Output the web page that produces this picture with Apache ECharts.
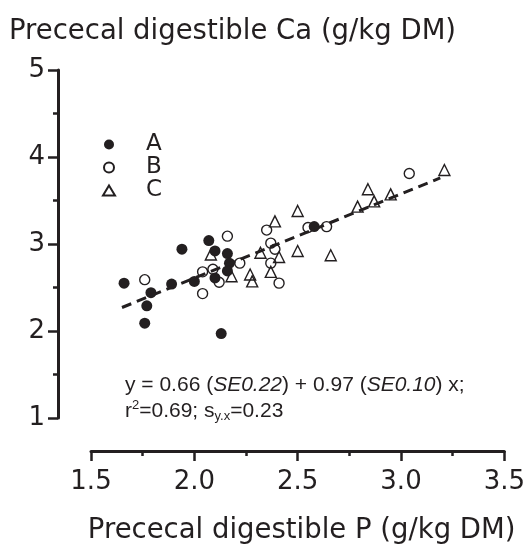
<!DOCTYPE html>
<html>
<head>
<meta charset="utf-8">
<script src="https://cdn.jsdelivr.net/npm/echarts@6/dist/echarts.min.js"></script>
<style>html,body{margin:0;padding:0;background:#fff}#c{width:528px;height:550px}</style>
</head>
<body>
<div id="c"></div>
<script>
// Group A (filled circles)
var xA = [1.66, 1.79, 1.77, 1.76, 1.89, 1.94, 2.00, 2.07, 2.10, 2.10, 2.13, 2.16, 2.17, 2.16, 2.58];
var yA = [2.55, 2.44, 2.29, 2.09, 2.54, 2.94, 2.57, 3.04, 2.92, 2.61, 1.97, 2.89, 2.78, 2.69, 3.20];
// Group B (open circles)
var xB = [1.76, 2.04, 2.09, 2.12, 2.04, 2.16, 2.22, 2.35, 2.37, 2.39, 2.37, 2.41, 2.55, 2.64, 3.04];
var yB = [2.59, 2.68, 2.71, 2.56, 2.43, 3.09, 2.78, 3.16, 3.01, 2.94, 2.78, 2.55, 3.19, 3.20, 3.81];
// Group C (open triangles)
var xC = [2.08, 2.18, 2.27, 2.28, 2.32, 2.37, 2.39, 2.41, 2.50, 2.50, 2.66, 2.79, 2.84, 2.87, 2.95, 3.21];
var yC = [2.88, 2.63, 2.65, 2.57, 2.90, 2.68, 3.26, 2.85, 2.92, 3.38, 2.87, 3.43, 3.63, 3.49, 3.57, 3.85];
// Regression line end points
var fitX = [1.65, 3.19];
var fitY = [2.27, 3.76];
// Tick labels
var xTicks = ['1.5', '2.0', '2.5', '3.0', '3.5'];
var yTicks = ['1', '2', '3', '4', '5'];
var seriesNames = ['A', 'B', 'C'];

function pairs(xs, ys) { return xs.map(function (x, i) { return [x, ys[i]]; }); }

var ink = '#231f20';
var chart = echarts.init(document.getElementById('c'), null, {renderer: 'canvas'});
chart.setOption({
  animation: false,
  backgroundColor: '#fff',
  title: {
    text: 'Prececal digestible Ca (g/kg DM)',
    left: 4, top: 13,
    textStyle: {fontFamily: 'DejaVu Sans', fontSize: 27.5, fontWeight: 'normal', color: ink}
  },
  grid: {left: 91, right: 22, top: 70, bottom: 131, containLabel: false},
  legend: {
    data: seriesNames,
    orient: 'vertical',
    left: 97, top: 128,
    itemWidth: 12, itemHeight: 10,
    itemGap: 0,
    selectedMode: false,
    textStyle: {fontFamily: 'DejaVu Sans', fontSize: 23, color: ink, lineHeight: 22, padding: [0, 0, 0, 26]}
  },
  xAxis: {
    type: 'value', min: 1.5, max: 3.5, interval: 0.5, offset: 33,
    name: 'Prececal digestible P (g/kg DM)',
    nameLocation: 'middle', nameGap: 66,
    nameTextStyle: {fontFamily: 'DejaVu Sans', fontSize: 27.5, color: ink, padding: [0, 0, 0, 8]},
    axisLine: {lineStyle: {color: ink, width: 3}},
    axisTick: {length: 10, lineStyle: {color: ink, width: 2.5}},
    minorTick: {show: true, splitNumber: 2, length: 5, lineStyle: {color: ink, width: 2.5}},
    splitLine: {show: false},
    axisLabel: {
      fontFamily: 'DejaVu Sans', fontSize: 26, color: ink, margin: 18,
      formatter: function (v) { return xTicks[Math.round((v - 1.5) / 0.5)]; }
    }
  },
  yAxis: {
    type: 'value', min: 1, max: 5, interval: 1, offset: 33,
    axisLine: {show: true, lineStyle: {color: ink, width: 3}},
    axisTick: {show: true, length: 10, lineStyle: {color: ink, width: 2.5}},
    minorTick: {show: true, splitNumber: 2, length: 5, lineStyle: {color: ink, width: 2.5}},
    splitLine: {show: false},
    axisLabel: {
      fontFamily: 'DejaVu Sans', fontSize: 26, color: ink, margin: 13,
      formatter: function (v) { return yTicks[Math.round(v - 1)]; }
    }
  },
  series: [
    {
      name: 'A', type: 'scatter', symbol: 'circle', symbolSize: 11,
      itemStyle: {color: ink, opacity: 1},
      data: pairs(xA, yA), z: 3
    },
    {
      name: 'B', type: 'scatter', symbol: 'circle', symbolSize: 10,
      itemStyle: {color: 'rgba(255,255,255,0)', borderColor: ink, borderWidth: 1.4, opacity: 1},
      data: pairs(xB, yB), z: 2
    },
    {
      name: 'C', type: 'scatter', symbol: 'triangle', symbolSize: 11,
      itemStyle: {color: 'rgba(255,255,255,0)', borderColor: ink, borderWidth: 1.4, opacity: 1},
      data: pairs(xC, yC), z: 2
    },
    {
      name: 'fit', type: 'line', showSymbol: false, symbol: 'none', silent: true,
      lineStyle: {color: ink, width: 3, type: [10, 6]},
      data: pairs(fitX, fitY), z: 4
    }
  ],
  graphic: [
    {
      type: 'text', x: 125, y: 385,
      style: {
        text: '{n|y = 0.66 (}{i|SE0.22}{n|) + 0.97 (}{i|SE0.10}{n|) x;}',
        verticalAlign: 'middle', align: 'left', fill: ink,
        rich: {
          n: {fontFamily: 'Liberation Sans', fontSize: 21, fill: ink},
          i: {fontFamily: 'Liberation Sans', fontSize: 21, fontStyle: 'italic', fill: ink}
        }
      }
    },
    {
      type: 'text', x: 125, y: 411,
      style: {
        text: '{n|r}{sup|2}{n|=0.69; s}{sub|y.x}{n|=0.23}',
        verticalAlign: 'middle', align: 'left', fill: ink,
        rich: {
          n: {fontFamily: 'Liberation Sans', fontSize: 21, lineHeight: 24, fill: ink},
          sup: {fontFamily: 'Liberation Sans', fontSize: 13, verticalAlign: 'top', fill: ink},
          sub: {fontFamily: 'Liberation Sans', fontSize: 13, verticalAlign: 'bottom', fill: ink}
        }
      }
    }
  ]
});
</script>
</body>
</html>
